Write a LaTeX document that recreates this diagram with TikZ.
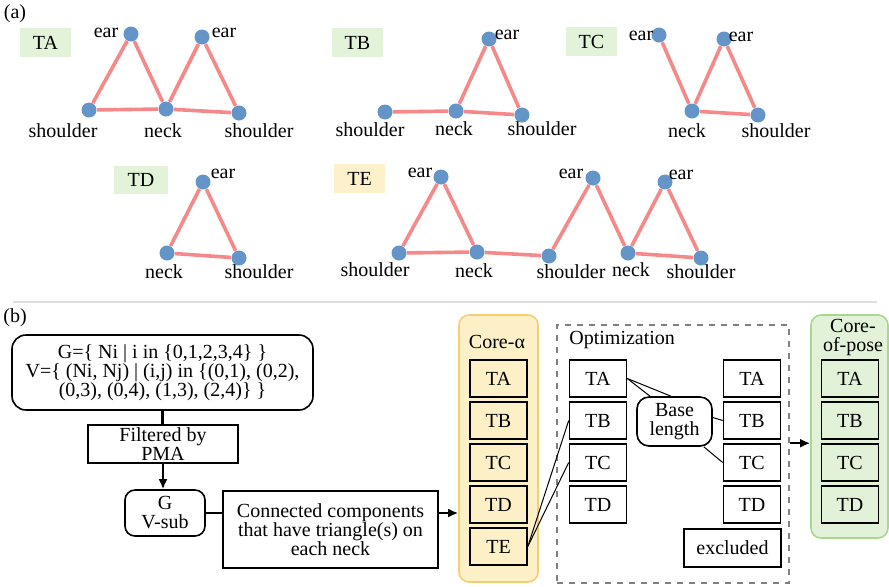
\documentclass[tikz,border=0pt]{standalone}
\usepackage{fontspec}
\setmainfont{Liberation Serif}
\usetikzlibrary{arrows.meta}

\definecolor{jointblue}{RGB}{99,149,201}
\definecolor{bonered}{RGB}{245,136,136}
\definecolor{tagGreen}{RGB}{226,243,217}
\definecolor{tagYellow}{RGB}{253,241,204}
\definecolor{alphaFill}{RGB}{253,240,198}
\definecolor{alphaLine}{RGB}{246,207,114}
\definecolor{poseFill}{RGB}{225,242,216}
\definecolor{poseLine}{RGB}{168,216,142}

\begin{document}
\begin{tikzpicture}[x=0.5pt, y=-0.5pt,
  font=\fontsize{10}{9.5}\selectfont,
  joint/.style={circle, fill=jointblue, inner sep=0pt, minimum size=7.5pt},
  bone/.style={draw=bonered, line width=1.8pt},
  word/.style={inner sep=0pt},
  tag/.style={inner sep=0pt, minimum width=25.5pt, minimum height=14.5pt},
  tile/.style={draw, line width=0.8pt, inner sep=0pt, minimum width=28.5pt, minimum height=18.5pt},
  roundbox/.style={draw, line width=0.8pt, rounded corners=7pt, align=center, inner sep=0pt},
  panel/.style={rounded corners=5pt, line width=0.8pt, inner sep=0pt},
  link/.style={line width=0.5pt},
  joinline/.style={line width=1.1pt},
  flow/.style={-{Latex[length=5pt,width=4.5pt]}, line width=1.1pt}]

\useasboundingbox (0,0) rectangle (889,586);

% ── (a): skeleton triangles ──
\node[word] (pa) at (15,14) {(a)};

% TA: two triangles sharing the neck
\node[tag, fill=tagGreen] (ta) at (45.5,42.5) {TA};
\node[joint] (ta-e1) at (131,34) {};
\node[joint] (ta-e2) at (202,37) {};
\node[joint] (ta-s1) at (89,110) {};
\node[joint] (ta-n) at (166,109) {};
\node[joint] (ta-s2) at (239,113) {};
\draw[bone] (ta-s1) -- (ta-e1) -- (ta-n) -- (ta-e2) -- (ta-s2) -- (ta-n) -- (ta-s1);
\node[word] (ta-le1) at (106,33) {ear};
\node[word] (ta-le2) at (224,33) {ear};
\node[word] (ta-ls1) at (63,131) {shoulder};
\node[word] (ta-ln) at (163,131) {neck};
\node[word] (ta-ls2) at (259,131) {shoulder};

% TB: one triangle plus a loose shoulder
\node[tag, fill=tagGreen] (tb) at (357.5,42.5) {TB};
\node[joint] (tb-s1) at (385,112) {};
\node[joint] (tb-n) at (456,111) {};
\node[joint] (tb-e) at (489,39) {};
\node[joint] (tb-s2) at (522,115) {};
\draw[bone] (tb-s1) -- (tb-n) -- (tb-e) -- (tb-s2) -- (tb-n);
\node[word] (tb-ls1) at (370,130) {shoulder};
\node[word] (tb-ln) at (454,129) {neck};
\node[word] (tb-le) at (507,35) {ear};
\node[word] (tb-ls2) at (542,129) {shoulder};

% TC: one triangle plus a loose ear
\node[tag, fill=tagGreen] (tc) at (591.5,41.5) {TC};
\node[joint] (tc-e1) at (659,35) {};
\node[joint] (tc-e2) at (724,39) {};
\node[joint] (tc-n) at (692,111) {};
\node[joint] (tc-s) at (758,115) {};
\draw[bone] (tc-e1) -- (tc-n) -- (tc-e2) -- (tc-s) -- (tc-n);
\node[word] (tc-le1) at (641,36) {ear};
\node[word] (tc-le2) at (741,37) {ear};
\node[word] (tc-ln) at (687,131) {neck};
\node[word] (tc-ls) at (776,131) {shoulder};

% TD: single triangle
\node[tag, fill=tagGreen, minimum width=27pt, minimum height=14pt] (td) at (141,180) {TD};
\node[joint] (td-e) at (203,182) {};
\node[joint] (td-n) at (167,253) {};
\node[joint] (td-s) at (239,258) {};
\draw[bone] (td-n) -- (td-e) -- (td-s) -- (td-n);
\node[word] (td-le) at (223,174) {ear};
\node[word] (td-ln) at (164,272) {neck};
\node[word] (td-ls) at (259,272) {shoulder};

% TE: chain over two necks
\node[tag, fill=tagYellow] (te) at (359.5,178.5) {TE};
\node[joint] (te-e1) at (441,177) {};
\node[joint] (te-s1) at (399,253) {};
\node[joint] (te-n1) at (477,252) {};
\node[joint] (te-s2) at (549,256) {};
\node[joint] (te-e2) at (593,178) {};
\node[joint] (te-n2) at (628,253) {};
\node[joint] (te-e3) at (665,182) {};
\node[joint] (te-s3) at (701,258) {};
\draw[bone] (te-s1) -- (te-e1) -- (te-n1) -- (te-s1);
\draw[bone] (te-n1) -- (te-s2) -- (te-e2) -- (te-n2) -- (te-e3) -- (te-s3) -- (te-n2);
\node[word] (te-le1) at (420,173) {ear};
\node[word] (te-ls1) at (375,270) {shoulder};
\node[word] (te-ln1) at (474,271) {neck};
\node[word] (te-ls2) at (571,272) {shoulder};
\node[word] (te-le2) at (571,174) {ear};
\node[word] (te-ln2) at (631,270) {neck};
\node[word] (te-le3) at (681,175) {ear};
\node[word] (te-ls3) at (701,272) {shoulder};

% divider
\draw[gray!25, line width=0.6pt] (13,302) -- (877,302);

% ── (b): pipeline ──
\node[word] (pb) at (15,318) {(b)};

\node[roundbox, minimum width=150.5pt, minimum height=37.5pt] (graph) at (162.5,372.5)
  {G=\{ Ni | i in \{0,1,2,3,4\} \}\\V=\{ (Ni, Nj) | (i,j) in \{(0,1), (0,2),\\(0,3), (0,4), (1,3), (2,4)\} \}};
\node[tile, align=center, minimum width=75pt, minimum height=19pt] (pma) at (163,444) {Filtered by\\PMA};
\node[roundbox, rounded corners=5pt, minimum width=40pt, minimum height=23pt] (gsub) at (165,513) {G\\V-sub};
\node[tile, align=center, minimum width=107.5pt, minimum height=38.5pt] (comp) at (330.5,529.5)
  {Connected components\\that have triangle(s) on\\each neck};

\draw[joinline] (graph.south) -- (graph.south |- pma.north);
\draw[flow] (pma.south) -- (pma.south |- gsub.north);
\draw[joinline] (gsub.east) -- (gsub.east -| comp.west);

% Core-alpha column
\node[panel, fill=alphaFill, draw=alphaLine, minimum width=39.5pt, minimum height=133.5pt] (alpha) at (498.5,448.5) {};
\node[word] (alpha-t) at (497,342) {Core-α};
\node[tile] (al-TA) at (498.5,378.5) {TA};
\node[tile] (al-TB) at (498.5,420.5) {TB};
\node[tile] (al-TC) at (498.5,462.5) {TC};
\node[tile] (al-TD) at (498.5,504.5) {TD};
\node[tile] (al-TE) at (498.5,546.5) {TE};
\draw[flow] (gsub.east -| comp.east) -- (gsub.east -| alpha.west);

% Optimization stage
\node[draw=gray, dashed, line width=0.8pt, inner sep=0pt, minimum width=116pt, minimum height=129pt] (opt) at (673,454) {};
\node[word, anchor=west] (opt-t) at (569,340) {Optimization};
\node[tile] (op-TA) at (598,378.5) {TA};
\node[tile] (op-TB) at (598,420.5) {TB};
\node[tile] (op-TC) at (598,462.5) {TC};
\node[tile] (op-TD) at (598,504.5) {TD};
\node[tile] (or-TA) at (752,378.5) {TA};
\node[tile] (or-TB) at (752,420.5) {TB};
\node[tile] (or-TC) at (752,462.5) {TC};
\node[tile] (or-TD) at (752,504.5) {TD};
\node[tile, minimum width=48.5pt, minimum height=19pt] (excl) at (732.5,548) {excluded};
\node[roundbox, rounded corners=6pt, minimum width=37.5pt, minimum height=24.5pt] (base) at (674.5,421.5) {Base\\length};

\draw[link] (al-TE.east) -- (op-TB.west);
\draw[link] (al-TE.east) -- (op-TC.west);
\draw[link] (op-TA.east) -- ([xshift=-12.25pt]base.north);
\draw[link] (op-TA.east) -- ([xshift=-1.75pt]base.north);
\draw[link] ([yshift=2pt]base.east) -- (or-TB.west);
\draw[link] ([xshift=-4.5pt]base.south east) -- (or-TC.west);

% Core-of-pose column
\node[panel, fill=poseFill, draw=poseLine, minimum width=38.5pt, minimum height=111.5pt] (pose) at (849.5,426.5) {};
\node[word, align=center] (pose-t) at (853,337) {Core-\\of-pose};
\node[tile] (po-TA) at (850,378.5) {TA};
\node[tile] (po-TB) at (850,420.5) {TB};
\node[tile] (po-TC) at (850,462.5) {TC};
\node[tile] (po-TD) at (850,504.5) {TD};
\draw[flow] (opt.east |- op-TC.north) -- (pose.west |- op-TC.north);

\end{tikzpicture}
\end{document}
